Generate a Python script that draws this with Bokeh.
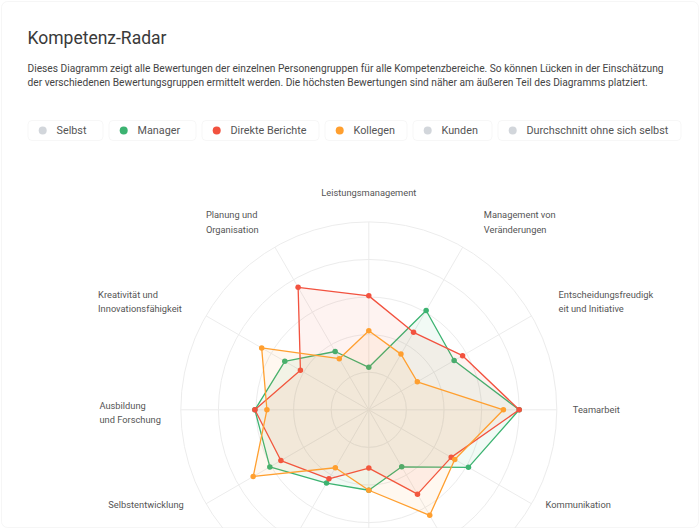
import numpy as np
from bokeh.plotting import figure
from bokeh.models import Range1d, BoxAnnotation
from bokeh.core.properties import value
from bokeh.embed import file_html
from bokeh.resources import INLINE

# ---------------- data ----------------
title_text = "Kompetenz-Radar"
description_lines = [
    "Dieses Diagramm zeigt alle Bewertungen der einzelnen Personengruppen für alle Kompetenzbereiche. So können Lücken in der Einschätzung",
    "der verschiedenen Bewertungsgruppen ermittelt werden. Die höchsten Bewertungen sind näher am äußeren Teil des Diagramms platziert.",
]
categories = [
    "Leistungsmanagement",
    "Management von\nVeränderungen",
    "Entscheidungsfreudigk\neit und Initiative",
    "Teamarbeit",
    "Kommunikation",
    "Kundenorientierung",
    "Fachkompetenz",
    "Führung",
    "Selbstentwicklung",
    "Ausbildung\nund Forschung",
    "Kreativität und\nInnovationsfähigkeit",
    "Planung und\nOrganisation",
]
manager = [1.13, 3.05, 2.62, 4.0, 3.06, 1.75, 2.14, 2.25, 3.04, 3.03, 2.58, 1.79]
direkte_berichte = [3.03, 2.38, 2.88, 4.0, 2.53, 2.59, 1.55, 2.12, 2.70, 3.03, 2.10, 3.76]
kollegen = [2.10, 1.71, 1.49, 3.58, 2.64, 3.24, 2.14, 1.78, 3.55, 2.71, 3.29, 1.57]
legend_names = ["Selbst", "Manager", "Direkte Berichte", "Kollegen", "Kunden", "Durchschnitt ohne sich selbst"]
legend_colors = ["#d2d6db", "#3cb371", "#f2523f", "#ff9f2f", "#d2d6db", "#d2d6db"]
ring_values = [1, 2, 3, 4, 5]

# ---------------- layout (pixels) ----------------
W, H = 700, 528
CX, CY = 368.3, 409.3
U = 37.6  # px per rating unit
FONT = "Roboto"


def X(px):
    return (px - CX) / U


def Y(py):
    return (CY - py) / U


p = figure(width=W, height=H, x_range=Range1d(X(0), X(W)), y_range=Range1d(Y(H), Y(0)),
           output_backend="svg", toolbar_location=None, min_border=0,
           x_axis_type=None, y_axis_type=None)
p.grid.visible = False
p.outline_line_color = None
p.background_fill_color = "white"
p.border_fill_color = "white"

# card
p.add_layout(BoxAnnotation(left=X(1), right=X(698), top=Y(1), bottom=Y(527),
                           fill_color="white", fill_alpha=1, line_color="#e2e2e2",
                           line_width=1, border_radius=6, level="underlay"))

# header
p.text(x=[X(27)], y=[Y(37)], text=[title_text], text_font=value(FONT), text_font_size="17.5px",
       text_color="#3a3a3a", text_baseline="middle", text_align="left")
p.text(x=[X(27)] * 2, y=[Y(67.5), Y(82)], text=description_lines, text_font=value(FONT),
       text_font_size="10.2px", text_color="#444444", text_baseline="middle", text_align="left")

# legend boxes
legend_widths = [75, 87, 117, 82, 79, 183]
lx = 27.5
for name, col, w in zip(legend_names, legend_colors, legend_widths):
    p.add_layout(BoxAnnotation(left=X(lx), right=X(lx + w), top=Y(120), bottom=Y(140),
                               fill_color="white", fill_alpha=1, line_color="#e4e4e4",
                               line_width=1, border_radius=4, level="underlay"))
    p.scatter(x=[X(lx + 14.7)], y=[Y(130)], size=8, marker="circle", fill_color=col,
              line_color=None)
    p.text(x=[X(lx + 28.5)], y=[Y(130)], text=[name], text_font=value(FONT),
           text_font_size="10.8px", text_color="#555555", text_baseline="middle",
           text_align="left")
    lx += w + 6

# radar grid
n = len(categories)
theta = np.pi / 2 - np.arange(n) * 2 * np.pi / n
rmax = max(ring_values)
p.circle(x=[0] * len(ring_values), y=[0] * len(ring_values), radius=ring_values,
         fill_color=None, line_color="#ececec", line_width=1)
p.segment(x0=np.zeros(n), y0=np.zeros(n), x1=rmax * np.cos(theta), y1=rmax * np.sin(theta),
          line_color="#ececec", line_width=1)

# series
for vals, col in [(manager, legend_colors[1]), (direkte_berichte, legend_colors[2]),
                  (kollegen, legend_colors[3])]:
    v = np.array(vals)
    xs = v * np.cos(theta)
    ys = v * np.sin(theta)
    p.patch(x=xs, y=ys, fill_color=col, fill_alpha=0.07, line_color=None)
    p.line(x=np.append(xs, xs[0]), y=np.append(ys, ys[0]), line_color=col, line_width=1.3)
    p.scatter(x=xs, y=ys, size=5.5, marker="circle", fill_color=col, line_color=None)

# category labels
CW = {c: 0.55 for c in "abcdeghknopqsuvxyzäöü"}
CW.update({c: 0.25 for c in "ijl "})
CW.update({"f": 0.34, "t": 0.33, "r": 0.34, "m": 0.87, "w": 0.75, "I": 0.27, "M": 0.87})


def text_w(s, fs):
    return sum(CW.get(c, 0.62) for c in s) * fs * 0.92


LFS = 9.3
LINE_H = 14.5
lab_x, lab_y, lab_t = [], [], []
cen_x, cen_y, cen_t = [], [], []
for cat, th in zip(categories, theta):
    c, s = np.cos(th), np.sin(th)
    lines = cat.split("\n")
    rv = 217 if s > 0 else 190
    ymid = CY - rv * s
    if abs(s) < 1e-6:
        ymid = CY + (2.5 if len(lines) > 1 else 0)
    if ymid > H - 10:
        continue
    if abs(c) < 0.01:
        for k, ln in enumerate(lines):
            cen_x.append(X(CX))
            cen_y.append(Y(ymid + (k - (len(lines) - 1) / 2) * LINE_H))
            cen_t.append(ln)
        continue
    if c > 0:
        rh = 204 + 30 * max(s, 0)
        left = CX + rh * c
    else:
        rh = 212 + 20 * max(s, 0) + 14 * max(-s, 0)
        right = CX + rh * c
        left = right - max(text_w(ln, LFS) for ln in lines)
    for k, ln in enumerate(lines):
        lab_x.append(X(left))
        lab_y.append(Y(ymid + (k - (len(lines) - 1) / 2) * LINE_H))
        lab_t.append(ln)

p.text(x=lab_x, y=lab_y, text=lab_t, text_font=value(FONT), text_font_size=f"{LFS}px",
       text_color="#555555", text_baseline="middle", text_align="left")
p.text(x=cen_x, y=cen_y, text=cen_t, text_font=value(FONT), text_font_size=f"{LFS}px",
       text_color="#555555", text_baseline="middle", text_align="center")

open("out.html", "w").write(file_html(p, INLINE))
